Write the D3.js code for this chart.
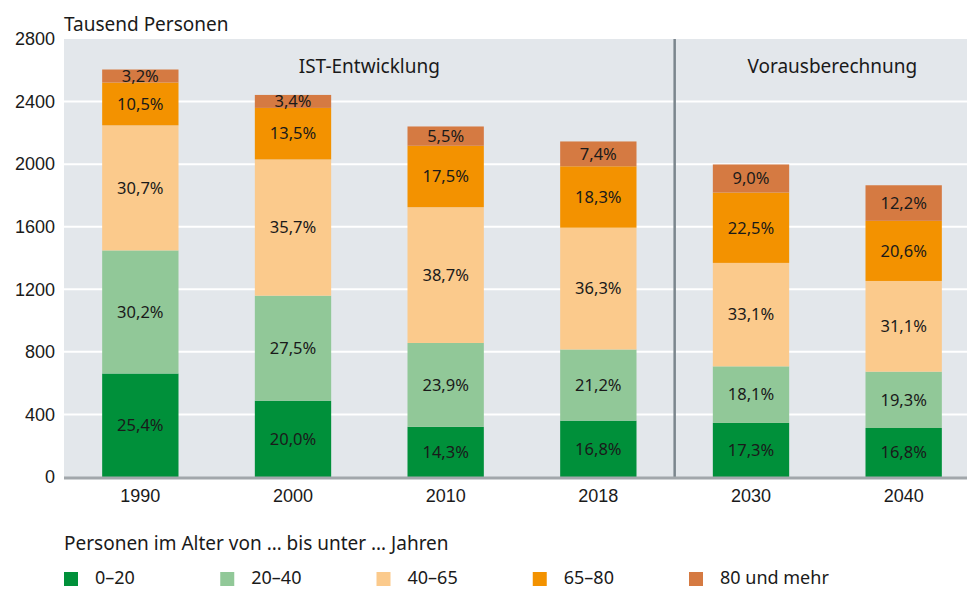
<!DOCTYPE html>
<html>
<head>
<meta charset="utf-8">
<script src="https://cdn.jsdelivr.net/npm/d3@7"></script>
<style>
  body { margin: 0; background: #fff; }
  svg { display: block; font-family: "Source Sans Pro", "Noto Sans", sans-serif; }
</style>
</head>
<body>
<svg id="chart" width="967" height="589"></svg>
<script>
// years (categories)
const years = ['1990', '2000', '2010', '2018', '2030', '2040'];
// total population, thousand persons
const totals = [2605, 2440, 2243, 2145, 1998, 1865];
// age groups
const groups = ['0–20', '20–40', '40–65', '65–80', '80 und mehr'];
// shares in percent per year, one array per age group
const share0020 = [25.4, 20.0, 14.3, 16.8, 17.3, 16.8];
const share2040 = [30.2, 27.5, 23.9, 21.2, 18.1, 19.3];
const share4065 = [30.7, 35.7, 38.7, 36.3, 33.1, 31.1];
const share6580 = [10.5, 13.5, 17.5, 18.3, 22.5, 20.6];
const share80 = [3.2, 3.4, 5.5, 7.4, 9.0, 12.2];
const yTicks = [0, 400, 800, 1200, 1600, 2000, 2400, 2800];
const colors = ['#00903a', '#91c898', '#fbca8c', '#f39200', '#d57a42'];

const shares = [share0020, share2040, share4065, share6580, share80];

// build rows for d3.stack
const rows = years.map((yr, i) => {
    const row = { year: yr };
    groups.forEach((g, k) => {
        row[g] = totals[i] * shares[k][i] / 100;
    });
    return row;
});

const svg = d3.select('#chart');
const plotLeft = 64, plotRight = 967, plotTop = 39, plotBottom = 477;
const textColor = '#1a1a1a';

const x = d3.scaleBand()
    .domain(years)
    .range([plotLeft, 980])
    .paddingInner(0.5)
    .paddingOuter(0.25);

const y = d3.scaleLinear()
    .domain([0, 2800])
    .range([plotBottom, plotTop]);

// plot background
svg.append('rect')
    .attr('x', plotLeft)
    .attr('y', plotTop)
    .attr('width', plotRight - plotLeft)
    .attr('height', plotBottom - plotTop)
    .attr('fill', '#e3e7eb');

// white gridlines
svg.append('g')
    .selectAll('line')
    .data(yTicks.filter(t => t > 0 && t < 2800))
    .join('line')
    .attr('x1', plotLeft)
    .attr('x2', plotRight)
    .attr('y1', d => y(d))
    .attr('y2', d => y(d))
    .attr('stroke', '#fff')
    .attr('stroke-width', 2);

// y axis labels (no domain / tick lines)
const yAxis = svg.append('g')
    .attr('transform', `translate(${plotLeft},0)`)
    .call(d3.axisLeft(y).tickValues(yTicks).tickFormat(d3.format('d')).tickSize(0).tickPadding(9));
yAxis.select('.domain').remove();
yAxis.selectAll('text')
    .style('font-size', '18px')
    .style('font-family', 'inherit')
    .attr('fill', textColor);

// stacked bars
const stack = d3.stack().keys(groups)(rows);

const layer = svg.append('g')
    .selectAll('g')
    .data(stack)
    .join('g')
    .attr('fill', (d, k) => colors[k]);

layer.selectAll('rect')
    .data(d => d)
    .join('rect')
    .attr('x', d => x(d.data.year))
    .attr('y', d => y(d[1]))
    .attr('width', x.bandwidth())
    .attr('height', d => y(d[0]) - y(d[1]));

// percentage labels
layer.each(function(series, k) {
    d3.select(this).selectAll('text')
        .data(series)
        .join('text')
        .attr('x', d => x(d.data.year) + x.bandwidth() / 2)
        .attr('y', d => (y(d[0]) + y(d[1])) / 2)
        .attr('dy', '0.35em')
        .attr('text-anchor', 'middle')
        .attr('fill', textColor)
        .style('font-size', '16.5px')
        .text((d, i) => shares[k][i].toFixed(1).replace('.', ',') + '%');
});

// separator between actual data and projection
const sepX = (x('2018') + x.bandwidth() + x('2030')) / 2;
svg.append('line')
    .attr('x1', sepX)
    .attr('x2', sepX)
    .attr('y1', plotTop)
    .attr('y2', plotBottom)
    .attr('stroke', '#7b868d')
    .attr('stroke-width', 2.5);

// baseline
svg.append('line')
    .attr('x1', plotLeft)
    .attr('x2', plotRight)
    .attr('y1', plotBottom + 1)
    .attr('y2', plotBottom + 1)
    .attr('stroke', '#a2a7ab')
    .attr('stroke-width', 3);

// x axis labels
const xAxis = svg.append('g')
    .attr('transform', `translate(0,${plotBottom})`)
    .call(d3.axisBottom(x).tickSize(0).tickPadding(0));
xAxis.select('.domain').remove();
xAxis.selectAll('text')
    .attr('y', 25)
    .attr('dy', null)
    .style('font-size', '18px')
    .style('font-family', 'inherit')
    .attr('fill', textColor);

// section headings
const sections = [
    { label: 'IST-Entwicklung', from: '1990', to: '2018', shift: 0 },
    { label: 'Vorausberechnung', from: '2030', to: '2040', shift: 5 }
];
svg.append('g')
    .selectAll('text')
    .data(sections)
    .join('text')
    .attr('x', d => (x(d.from) + x(d.to) + x.bandwidth()) / 2 + d.shift)
    .attr('y', 73)
    .attr('text-anchor', 'middle')
    .attr('fill', textColor)
    .style('font-size', '19px')
    .text(d => d.label);

// unit label
svg.append('text')
    .attr('x', plotLeft)
    .attr('y', 31)
    .attr('fill', textColor)
    .style('font-size', '19px')
    .text('Tausend Personen');

// legend
svg.append('text')
    .attr('x', plotLeft)
    .attr('y', 550)
    .attr('fill', textColor)
    .style('font-size', '19px')
    .text('Personen im Alter von … bis unter … Jahren');

const legendX = d3.scalePoint()
    .domain(groups)
    .range([plotLeft, 689]);

const item = svg.append('g')
    .selectAll('g')
    .data(groups)
    .join('g')
    .attr('transform', d => `translate(${legendX(d)},572)`);

item.append('rect')
    .attr('width', 14)
    .attr('height', 14)
    .attr('fill', (d, k) => colors[k]);

item.append('text')
    .attr('x', 31)
    .attr('y', 12)
    .attr('fill', textColor)
    .style('font-size', '18px')
    .text(d => d);
</script>
</body>
</html>
